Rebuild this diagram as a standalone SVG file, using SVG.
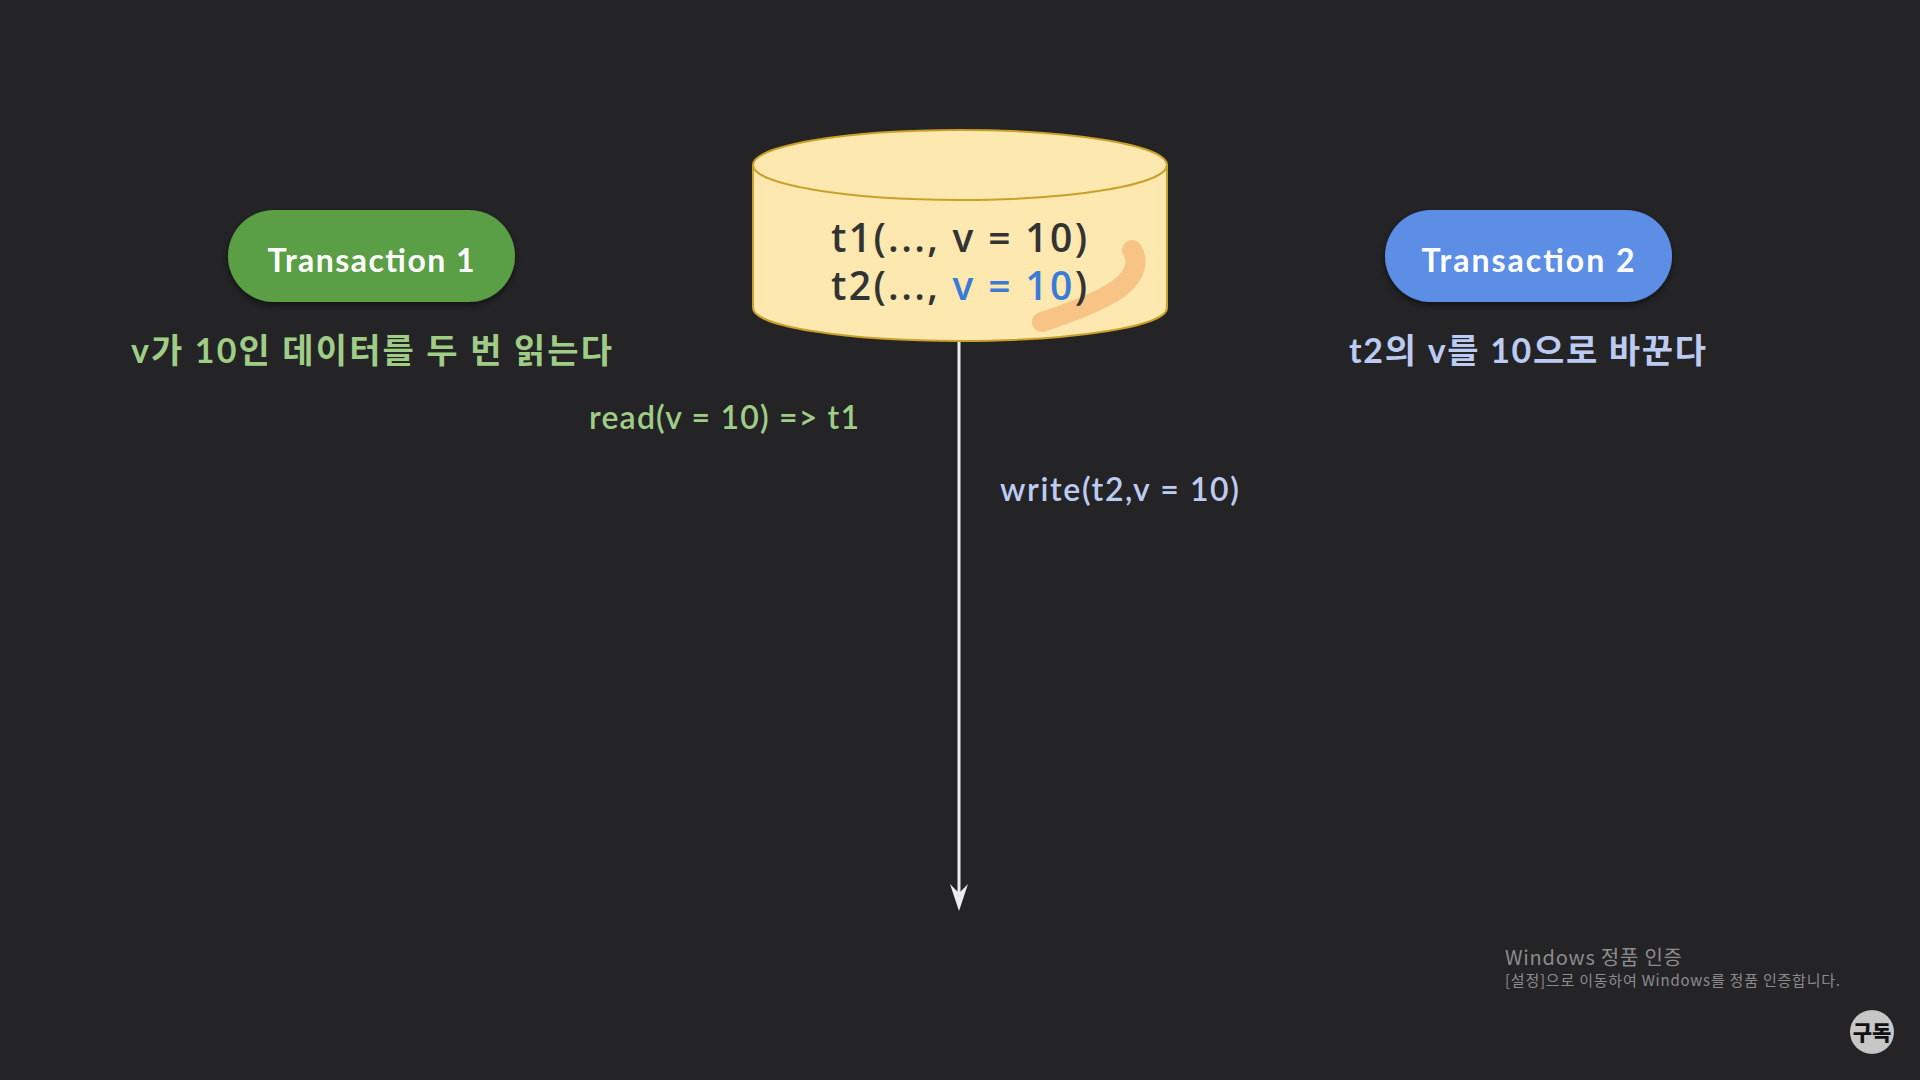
<svg xmlns="http://www.w3.org/2000/svg" width="1920" height="1080" viewBox="0 0 1920 1080">
<style>
.pill-text{font-family:Lato,"Noto Sans CJK KR",sans-serif;font-weight:700;font-size:32px;fill:#ffffff;text-anchor:middle}
.sub{font-family:Lato,"Noto Sans CJK KR",sans-serif;font-weight:700;font-size:34px}
.green{fill:#9fcd86}
.blue{fill:#bccbf2}
.db-text{font-family:"Open Sans","Noto Sans",sans-serif;font-weight:600;font-size:39px;fill:#333333}
.lbl{font-family:Lato,"Noto Sans CJK KR",sans-serif;font-size:32px;font-weight:600}
.wm{font-family:"Noto Sans CJK KR","Noto Sans",sans-serif;fill:#8c8c8c}
</style>
<defs>
<filter id="sh" x="-10%" y="-20%" width="120%" height="150%">
<feDropShadow dx="0" dy="3" stdDeviation="3" flood-color="#000" flood-opacity="0.5"/>
</filter>
</defs>
<rect width="1920" height="1080" fill="#242326"/>

<g id="connectors">
<line x1="959" y1="341" x2="959" y2="896" stroke="#ececec" stroke-width="3"/>
<polygon points="959,911 950,884 959,893 968,884" fill="#ececec"/>
</g>

<g id="transaction1">
<rect x="228" y="210" width="287" height="92" rx="46" fill="#5a9e44" filter="url(#sh)"/>
<text class="pill-text" x="371" y="272" textLength="207" lengthAdjust="spacing">Transaction 1</text>
<text class="sub green" x="131" y="363" textLength="481" lengthAdjust="spacing">v가 10인 데이터를 두 번 읽는다</text>
</g>

<g id="transaction2">
<rect x="1385" y="210" width="287" height="92" rx="46" fill="#5b8ee6" filter="url(#sh)"/>
<text class="pill-text" x="1528" y="272" textLength="213" lengthAdjust="spacing">Transaction 2</text>
<text class="sub blue" x="1349" y="363" textLength="357" lengthAdjust="spacing">t2의 v를 10으로 바꾼다</text>
</g>

<g id="database">
<path d="M753,165 V308 A207,33 0 0 0 1167,308 V165 Z" fill="#fde8b0" stroke="#c9a12a" stroke-width="2"/>
<ellipse cx="960" cy="165" rx="207" ry="35" fill="#fde8b0" stroke="#c9a12a" stroke-width="2"/>
<path d="M1132,250 C1140,262 1135,280 1110,294 C1090,306 1060,316 1042,322" fill="none" stroke="#f5b878" stroke-opacity="0.75" stroke-width="20" stroke-linecap="round"/>
<text class="db-text" x="831" y="252" textLength="256" lengthAdjust="spacing">t1(..., v = 10)</text>
<text class="db-text" x="831" y="300" textLength="256" lengthAdjust="spacing">t2(..., <tspan fill="#3b7bd8">v = 10</tspan>)</text>
</g>

<g id="read-label">
<text class="lbl green" x="589" y="429" textLength="270" lengthAdjust="spacing">read(v = 10) =&gt; t1</text>
</g>
<g id="write-label">
<text class="lbl blue" x="1000" y="501" textLength="239" lengthAdjust="spacing">write(t2,v = 10)</text>
</g>

<g id="watermark">
<text class="wm" x="1505" y="965" font-size="20" textLength="177" lengthAdjust="spacing">Windows 정품 인증</text>
<text class="wm" x="1505" y="986" font-size="15" textLength="335" lengthAdjust="spacing">[설정]으로 이동하여 Windows를 정품 인증합니다.</text>
</g>
<g id="subscribe">
<circle cx="1872" cy="1032" r="22" fill="#c6c6c6"/>
<text x="1872" y="1040" font-family="'Noto Sans CJK KR',sans-serif" font-weight="900" font-size="21" fill="#111" text-anchor="middle">구독</text>
</g>
</svg>
